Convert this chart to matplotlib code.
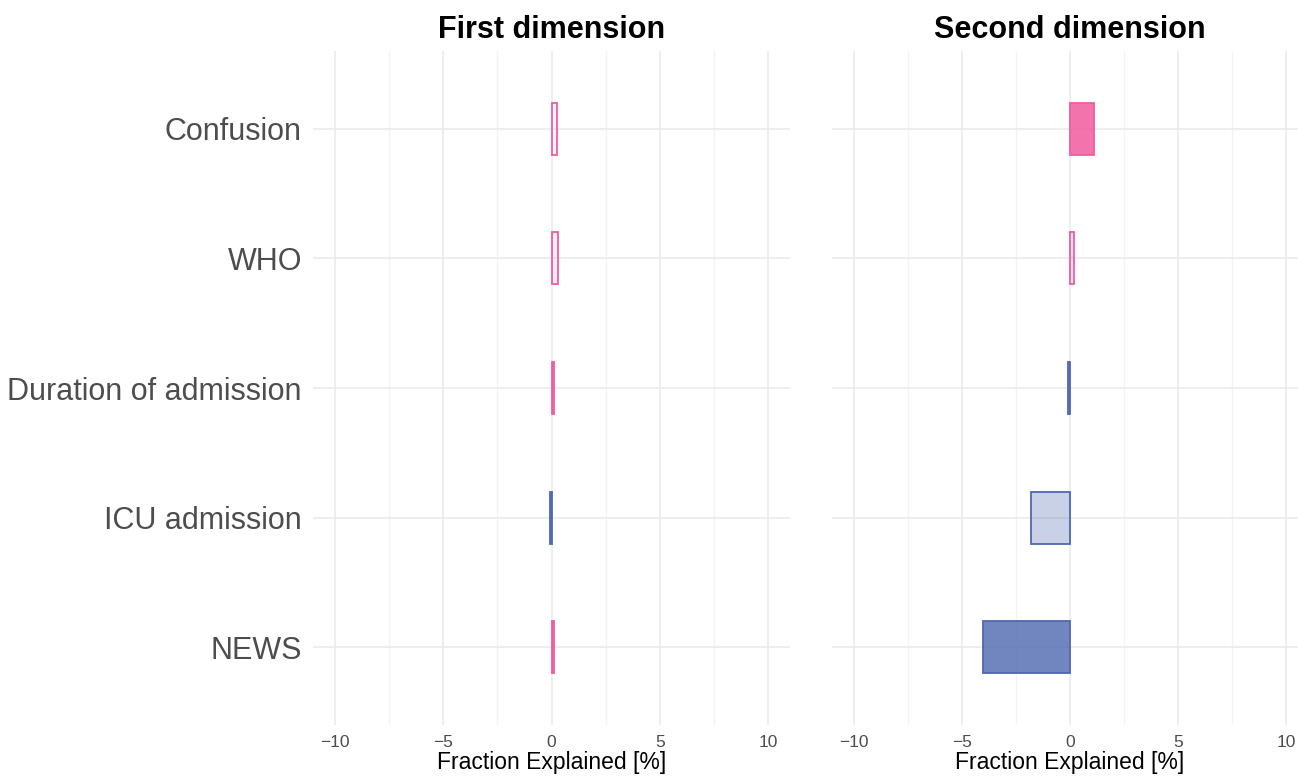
import matplotlib
matplotlib.use("Agg")
import matplotlib.pyplot as plt
from matplotlib.colors import to_rgba

# data
categories = ["Confusion", "WHO", "Duration of admission", "ICU admission", "NEWS"]
first_dim = [0.25, 0.3, 0.1, -0.05, 0.1]
second_dim = [1.1, 0.2, -0.1, -1.8, -4.0]
first_alpha = [0.05, 0.1, 0.8, 0.8, 0.8]
second_alpha = [0.85, 0.15, 0.6, 0.3, 0.8]
titles = ["First dimension", "Second dimension"]
ticks = [-10, -5, 0, 5, 10]
minor_ticks = [-7.5, -2.5, 2.5, 7.5]

PINK = "#F25C9F"
BLUE = "#4E68B0"

plt.rcParams['font.family'] = ['Liberation Sans', 'DejaVu Sans']

fig = plt.figure(figsize=(12.98, 7.76), dpi=100)
W, H = 1298, 776
ax_l = fig.add_axes([313 / W, 1 - 725 / H, (790 - 313) / W, (725 - 51) / H])
ax_r = fig.add_axes([832 / W, 1 - 725 / H, (1308 - 832) / W, (725 - 51) / H])

ypos = list(range(len(categories)))

for ax, vals, alphas, title in [(ax_l, first_dim, first_alpha, titles[0]),
                                (ax_r, second_dim, second_alpha, titles[1])]:
    for y, v, a in zip(ypos, vals, alphas):
        c = PINK if v > 0 else BLUE
        ax.barh(y, v, height=0.4, color=to_rgba(c, a),
                edgecolor=c, linewidth=1.3, zorder=3)
    ax.set_xlim(-11, 11)
    ax.set_ylim(len(categories) - 0.4, -0.6)
    ax.set_xticks(ticks)
    ax.set_xticklabels([str(t).replace("-", "\u2212") for t in ticks])
    ax.set_xticks(minor_ticks, minor=True)
    ax.set_yticks(ypos)
    ax.grid(True, which="major", color="#EBEBEB", linewidth=1.2, zorder=0)
    ax.grid(True, which="minor", axis="x", color="#F3F3F3", linewidth=1.0, zorder=0)
    ax.set_axisbelow(True)
    for s in ax.spines.values():
        s.set_visible(False)
    ax.tick_params(which="both", length=0)
    ax.tick_params(axis="x", labelsize=12.5, labelcolor="#4D4D4D", pad=7)
    ax.set_title(title, fontsize=22, fontweight="bold", pad=9)
    ax.set_xlabel("Fraction Explained [%]", fontsize=16.5, labelpad=1)

ax_l.set_yticklabels(categories, fontsize=22, color="#4D4D4D")
ax_l.tick_params(axis="y", pad=8)
ax_r.set_yticklabels([])

fig.savefig("out.png", dpi=100)
